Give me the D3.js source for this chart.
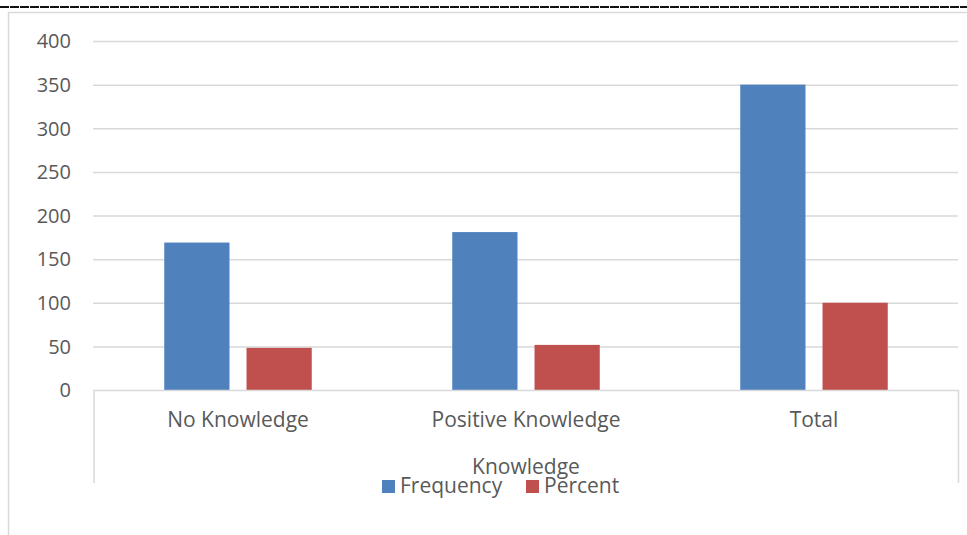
<!DOCTYPE html>
<html><head><meta charset="utf-8">
<script src="https://cdn.jsdelivr.net/npm/d3@7"></script>
<style>body{margin:0;background:#fff}svg{display:block}</style>
</head><body>
<script>
const categories = ["No Knowledge", "Positive Knowledge", "Total"];
const seriesNames = ["Frequency", "Percent"];
const frequency = [169, 181, 350];
const percent = [48.3, 51.7, 100];
const yTicks = [0, 50, 100, 150, 200, 250, 300, 350, 400];
const colors = ["#4F81BD", "#C0504D"];
const axisTitle = "Knowledge";

const W = 967, H = 535;
const svg = d3.select("body").append("svg").attr("width", W).attr("height", H);
const font = "'Open Sans', 'Noto Sans', sans-serif";
const txt = "#595959";
const fs = 21;

// top dashed black line
svg.append("line").attr("x1", 0).attr("x2", W).attr("y1", 7).attr("y2", 7)
  .attr("stroke", "#111").attr("stroke-width", 2).attr("stroke-dasharray", "9,1");
// chart frame
svg.append("path").attr("d", `M8.5,${H} V12.5 H${W}`).attr("fill", "none")
  .attr("stroke", "#d9d9d9").attr("stroke-width", 1.5);

const pLeft = 94, pRight = 958, pTop = 41, pBottom = 390;
const x0 = d3.scaleBand().domain(categories).range([pLeft, pRight]).paddingInner(0).paddingOuter(0);
const y = d3.scaleLinear().domain([0, 400]).range([pBottom, pTop]);
const x1 = d3.scaleBand().domain(seriesNames).range([0, x0.bandwidth()]).paddingInner(0.207).paddingOuter(0.854);

// gridlines
svg.append("g").selectAll("line").data(yTicks.filter(d => d > 0)).join("line")
  .attr("x1", pLeft - 1).attr("x2", pRight).attr("y1", d => y(d) + 0.5).attr("y2", d => y(d) + 0.5)
  .attr("stroke", "#d9d9d9").attr("stroke-width", 1.5);

// y axis labels via axis
const yAxis = svg.append("g").attr("transform", `translate(${pLeft - 23},0)`)
  .call(d3.axisLeft(y).tickValues(yTicks).tickSize(0).tickPadding(0));
yAxis.select(".domain").remove();
yAxis.selectAll("text").attr("font-family", font).attr("font-size", 20).attr("fill", txt).attr("dy", "0.34em");

const data = categories.map((c, i) => ({cat: c, vals: [frequency[i], percent[i]]}));
const g = svg.append("g");
g.selectAll("g").data(data).join("g").attr("transform", d => `translate(${x0(d.cat)},0)`)
  .selectAll("rect").data(d => d.vals.map((v, j) => ({s: seriesNames[j], v, j}))).join("rect")
  .attr("x", d => x1(d.s)).attr("width", x1.bandwidth())
  .attr("y", d => y(d.v)).attr("height", d => y(0) - y(d.v))
  .attr("fill", d => colors[d.j]);

// x axis box lines
svg.append("path").attr("d", `M${pLeft},483 V${pBottom + 0.5} H${pRight + 0.5} V483`).attr("fill", "none")
  .attr("stroke", "#d9d9d9").attr("stroke-width", 1.5);

// category labels
const xAxis = svg.append("g").attr("transform", `translate(0,${pBottom})`)
  .call(d3.axisBottom(x0).tickSize(0).tickPadding(0));
xAxis.select(".domain").remove();
xAxis.selectAll("text").attr("font-family", font).attr("font-size", fs).attr("fill", txt)
  .attr("y", 37).attr("dy", 0);

// axis title
svg.append("text").attr("x", (pLeft + pRight) / 2).attr("y", 474).attr("text-anchor", "middle")
  .attr("font-family", font).attr("font-size", fs).attr("fill", txt).text(axisTitle);

// legend
const legX = [382, 526];
const leg = svg.append("g").selectAll("g").data(seriesNames).join("g")
  .attr("transform", (d, i) => `translate(${legX[i]},480)`);
leg.append("rect").attr("width", 13).attr("height", 13).attr("fill", (d, i) => colors[i]);
leg.append("text").attr("x", 18).attr("y", 13).attr("font-family", font).attr("font-size", fs)
  .attr("fill", txt).text(d => d);
</script>
</body></html>
